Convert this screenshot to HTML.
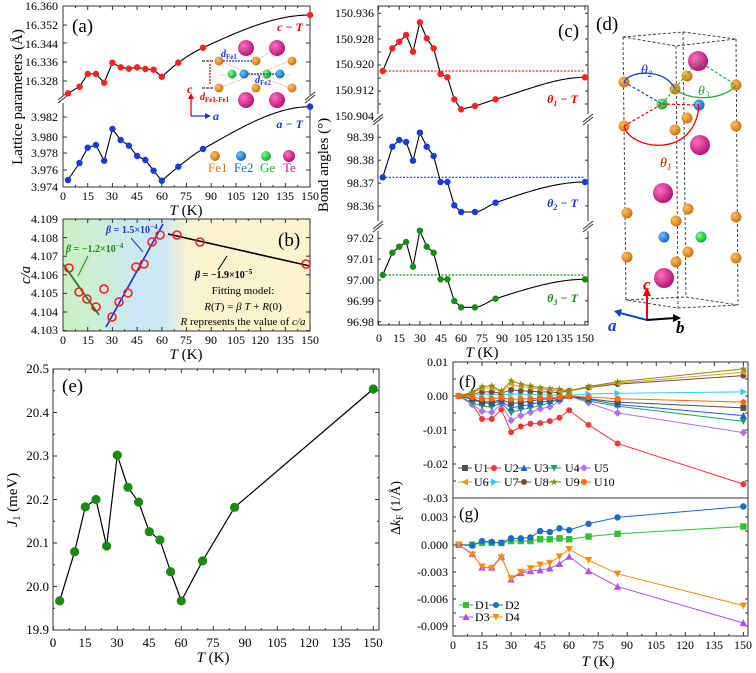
<!DOCTYPE html>
<html><head><meta charset="utf-8"><style>
html,body{margin:0;padding:0;background:#fff}
svg{display:block;font-family:"Liberation Serif",serif}
</style></head><body>
<svg id="s" width="756" height="673" viewBox="0 0 756 673" xmlns="http://www.w3.org/2000/svg">
<defs>
<linearGradient id="bg" x1="0" x2="1" y1="0" y2="0">
<stop offset="0" stop-color="#c9efc2"/><stop offset="0.15" stop-color="#cdeed6"/>
<stop offset="0.3" stop-color="#cbe9f6"/><stop offset="0.42" stop-color="#cfe8f3"/>
<stop offset="0.5" stop-color="#f9f3cf"/><stop offset="1" stop-color="#fbf4cc"/>
</linearGradient>
<radialGradient id="gO" cx="0.35" cy="0.35" r="0.7"><stop offset="0" stop-color="#ffc060"/><stop offset="1" stop-color="#c87010"/></radialGradient>
<radialGradient id="gB" cx="0.35" cy="0.35" r="0.7"><stop offset="0" stop-color="#70c0ff"/><stop offset="1" stop-color="#1060c0"/></radialGradient>
<radialGradient id="gG" cx="0.35" cy="0.35" r="0.7"><stop offset="0" stop-color="#80ff90"/><stop offset="1" stop-color="#10a030"/></radialGradient>
<radialGradient id="gP" cx="0.35" cy="0.35" r="0.7"><stop offset="0" stop-color="#ff70c0"/><stop offset="1" stop-color="#b01070"/></radialGradient>
</defs>
<rect x="63" y="219" width="247" height="112" fill="url(#bg)"/>
<g id="dyn"></g>

<g font-size="12" text-anchor="end">
<text x="58" y="10">16.360</text><text x="58" y="29">16.352</text><text x="58" y="48">16.344</text><text x="58" y="66">16.336</text><text x="58" y="85">16.328</text>
<text x="58" y="121">3.982</text><text x="58" y="141">3.980</text><text x="58" y="157">3.978</text><text x="58" y="174">3.976</text><text x="58" y="191">3.974</text>
</g>
<g font-size="12" text-anchor="middle">
<text x="63" y="200">0</text><text x="88" y="200">15</text><text x="112" y="200">30</text><text x="137" y="200">45</text><text x="162" y="200">60</text><text x="186" y="200">75</text><text x="211" y="200">90</text><text x="236" y="200">105</text><text x="260" y="200">120</text><text x="285" y="200">135</text><text x="310" y="200">150</text>
</g>
<text x="186" y="215" font-size="15" text-anchor="middle"><tspan font-style="italic">T</tspan> (K)</text>
<text transform="translate(22,97) rotate(-90)" font-size="15" text-anchor="middle">Lattice parameters (Å)</text>
<text x="72" y="32" font-size="19">(a)</text>
<text x="303" y="31" font-size="12" fill="#e00" font-style="italic" font-weight="bold" text-anchor="end">c − T</text>
<text x="303" y="128" font-size="12" fill="#1a3ad0" font-style="italic" font-weight="bold" text-anchor="end">a − T</text>
<g font-size="13">
<text x="208" y="172" fill="#e07a10">Fe1</text><text x="234" y="172" fill="#1a70d0">Fe2</text><text x="260" y="172" fill="#20b040">Ge</text><text x="283" y="172" fill="#d02090">Te</text>
</g>
<circle cx="215" cy="156" r="5" fill="url(#gO)"/><circle cx="241" cy="156" r="5" fill="url(#gB)"/><circle cx="266" cy="156" r="5" fill="url(#gG)"/><circle cx="289" cy="156" r="6" fill="url(#gP)"/>
<g stroke="#f0c090" stroke-width="0.7" opacity="0.9">
<line x1="219" y1="61" x2="290" y2="88"/><line x1="219" y1="88" x2="290" y2="61"/><line x1="219" y1="75" x2="290" y2="75"/>
<line x1="244" y1="48" x2="256" y2="61"/><line x1="276" y1="48" x2="256" y2="61"/>
</g>
<circle cx="246" cy="48" r="8" fill="url(#gP)"/><circle cx="277" cy="48" r="8" fill="url(#gP)"/>
<circle cx="246" cy="100" r="8" fill="url(#gP)"/><circle cx="277" cy="100" r="8" fill="url(#gP)"/>
<circle cx="219" cy="61" r="4.5" fill="url(#gO)"/><circle cx="256" cy="61" r="4.5" fill="url(#gO)"/><circle cx="292" cy="61" r="4.5" fill="url(#gO)"/>
<circle cx="219" cy="88" r="4.5" fill="url(#gO)"/><circle cx="256" cy="88" r="4.5" fill="url(#gO)"/><circle cx="292" cy="88" r="4.5" fill="url(#gO)"/>
<circle cx="232" cy="74" r="4.5" fill="url(#gG)"/><circle cx="244" cy="74" r="4.5" fill="url(#gB)"/><circle cx="267" cy="74" r="4.5" fill="url(#gG)"/><circle cx="280" cy="74" r="4.5" fill="url(#gB)"/>
<line x1="223" y1="61" x2="252" y2="61" stroke="#1a3ad0" stroke-dasharray="2,1" stroke-width="1.2"/>
<line x1="248" y1="74" x2="276" y2="74" stroke="#1a3ad0" stroke-dasharray="2,1" stroke-width="1.2"/>
<line x1="210" y1="64" x2="210" y2="85" stroke="#e00" stroke-dasharray="2,1" stroke-width="1.2"/>
<line x1="202" y1="61" x2="214" y2="61" stroke="#000" stroke-dasharray="3,1"/><line x1="202" y1="88" x2="214" y2="88" stroke="#000" stroke-dasharray="3,1"/>
<text x="221" y="57" font-size="10" fill="#1a3ad0" font-weight="bold" font-style="italic">d<tspan font-size="7" font-style="normal" dy="2">Fe1</tspan></text>
<text x="255" y="83" font-size="10" fill="#1a3ad0" font-weight="bold" font-style="italic">d<tspan font-size="7" font-style="normal" dy="2">Fe2</tspan></text>
<text x="200" y="100" font-size="10" fill="#e00" font-weight="bold" font-style="italic">d<tspan font-size="7" font-style="normal" dy="2">Fe1-Fe1</tspan></text>
<line x1="191" y1="116" x2="191" y2="96" stroke="#e00" stroke-width="1.3"/><path d="M188,99 L191,93 L194,99Z" fill="#e00"/>
<line x1="191" y1="116" x2="208" y2="116" stroke="#1a3ad0" stroke-width="1.3"/><path d="M205,113 L211,116 L205,119Z" fill="#1a3ad0"/>
<text x="187" y="93" font-size="12" fill="#e00" font-weight="bold" font-style="italic">c</text>
<text x="213" y="120" font-size="12" fill="#1a3ad0" font-weight="bold" font-style="italic">a</text>

<g font-size="12" text-anchor="end">
<text x="58" y="223">4.109</text><text x="58" y="242">4.108</text><text x="58" y="260">4.107</text><text x="58" y="279">4.106</text><text x="58" y="297">4.105</text><text x="58" y="316">4.104</text><text x="58" y="334">4.103</text>
</g>
<g font-size="12" text-anchor="middle">
<text x="63" y="344">0</text><text x="88" y="344">15</text><text x="112" y="344">30</text><text x="137" y="344">45</text><text x="162" y="344">60</text><text x="186" y="344">75</text><text x="211" y="344">90</text><text x="236" y="344">105</text><text x="260" y="344">120</text><text x="285" y="344">135</text><text x="310" y="344">150</text>
</g>
<text x="186" y="359" font-size="15" text-anchor="middle"><tspan font-style="italic">T</tspan> (K)</text>
<text transform="translate(30,275) rotate(-90)" font-size="15" text-anchor="middle" font-style="italic">c/a</text>
<text x="278" y="246" font-size="19">(b)</text>
<text x="66" y="252" font-size="10" fill="#1a8a1a" font-weight="bold"><tspan font-style="italic">β</tspan> = −1.2×10<tspan dy="-4" font-size="7">−4</tspan></text>
<text x="106" y="233" font-size="10" fill="#1a3ad0" font-weight="bold"><tspan font-style="italic">β</tspan> = 1.5×10<tspan dy="-4" font-size="7">−4</tspan></text>
<text x="195" y="278" font-size="10" fill="#000" font-weight="bold"><tspan font-style="italic">β</tspan> = −1.9×10<tspan dy="-4" font-size="7">−5</tspan></text>
<g font-size="11" text-anchor="middle">
<text x="243" y="294">Fitting model:</text>
<text x="243" y="310"><tspan font-style="italic">R</tspan>(<tspan font-style="italic">T</tspan>) = <tspan font-style="italic">β T</tspan> + <tspan font-style="italic">R</tspan>(0)</text>
<text x="243" y="325"><tspan font-style="italic">R</tspan> represents the value of <tspan font-style="italic">c/a</tspan></text>
</g>

<g font-size="12" text-anchor="end">
<text x="374" y="17">150.936</text><text x="374" y="43">150.928</text><text x="374" y="68">150.920</text><text x="374" y="94">150.912</text><text x="374" y="120">150.904</text>
<text x="374" y="141">98.39</text><text x="374" y="164">98.38</text><text x="374" y="187">98.37</text><text x="374" y="210">98.36</text>
<text x="374" y="242">97.02</text><text x="374" y="263">97.01</text><text x="374" y="284">97.00</text><text x="374" y="305">96.99</text><text x="374" y="326">96.98</text>
</g>
<g font-size="12" text-anchor="middle">
<text x="379" y="342">0</text><text x="399" y="342">15</text><text x="420" y="342">30</text><text x="441" y="342">45</text><text x="461" y="342">60</text><text x="482" y="342">75</text><text x="502" y="342">90</text><text x="523" y="342">105</text><text x="544" y="342">120</text><text x="564" y="342">135</text><text x="585" y="342">150</text>
</g>
<text x="482" y="357" font-size="15" text-anchor="middle"><tspan font-style="italic">T</tspan> (K)</text>
<text transform="translate(328,165) rotate(-90)" font-size="15" text-anchor="middle">Bond angles (°)</text>
<text x="558" y="37" font-size="19">(c)</text>
<text x="578" y="103" font-size="12" fill="#e00" font-weight="bold" font-style="italic" text-anchor="end">θ<tspan font-size="8" dy="3">1</tspan><tspan dy="-3"> − T</tspan></text>
<text x="578" y="207" font-size="12" fill="#1a3ad0" font-weight="bold" font-style="italic" text-anchor="end">θ<tspan font-size="8" dy="3">2</tspan><tspan dy="-3"> − T</tspan></text>
<text x="578" y="302" font-size="12" fill="#1a8a1a" font-weight="bold" font-style="italic" text-anchor="end">θ<tspan font-size="8" dy="3">3</tspan><tspan dy="-3"> − T</tspan></text>

<text x="596" y="30" font-size="19">(d)</text>
<g stroke="#333" stroke-dasharray="3,2" fill="none" stroke-width="0.9">
<path d="M623,37 L683,32 L736,39 L676,46 Z"/>
<path d="M626,300 L686,297 L738,305 L678,308 Z"/>
<line x1="623" y1="37" x2="626" y2="300"/><line x1="676" y1="46" x2="678" y2="308"/><line x1="683" y1="32" x2="686" y2="297"/><line x1="736" y1="39" x2="738" y2="305"/>
</g>
<g id="datoms"></g>
<g stroke-width="1.2" fill="none" stroke-dasharray="3,2">
<line x1="624" y1="82" x2="662" y2="104" stroke="#1a3ad0"/>
<line x1="662" y1="104" x2="698" y2="61" stroke="#20b040"/>
<line x1="698" y1="61" x2="736" y2="85" stroke="#20b040"/>
<line x1="624" y1="126" x2="662" y2="104" stroke="#e00"/>
<line x1="662" y1="104" x2="699" y2="105" stroke="#e00"/>
</g>
<g fill="none" stroke-width="1.3">
<path d="M624,82 C630,70 665,68 675,89" stroke="#1a3ad0"/>
<path d="M675,89 C690,102 725,100 736,85" stroke="#20b040"/>
<path d="M624,126 C630,150 695,160 699,105" stroke="#e00"/>
</g>
<text x="641" y="74" font-size="14" fill="#1a3ad0" font-style="italic">θ<tspan font-size="9" dy="3">2</tspan></text>
<text x="698" y="95" font-size="14" fill="#20b040" font-style="italic">θ<tspan font-size="9" dy="3">3</tspan></text>
<text x="660" y="167" font-size="14" fill="#e00" font-style="italic">θ<tspan font-size="9" dy="3">1</tspan></text>
<line x1="647" y1="320" x2="647" y2="294" stroke="#e00" stroke-width="2"/><path d="M643,296 L647,287 L651,296Z" fill="#e00"/>
<line x1="647" y1="320" x2="620" y2="313" stroke="#1a3ad0" stroke-width="2"/><path d="M622,309 L614,311 L620,317Z" fill="#1a3ad0"/>
<line x1="647" y1="320" x2="675" y2="318" stroke="#000" stroke-width="2"/><path d="M673,314 L681,318 L673,322Z" fill="#000"/>
<text x="643" y="290" font-size="17" fill="#e00" font-style="italic" font-weight="bold">c</text>
<text x="608" y="331" font-size="17" fill="#1a3ad0" font-style="italic" font-weight="bold">a</text>
<text x="676" y="333" font-size="17" fill="#000" font-style="italic" font-weight="bold">b</text>

<g font-size="13" text-anchor="end">
<text x="49" y="373">20.5</text><text x="49" y="417">20.4</text><text x="49" y="460">20.3</text><text x="49" y="504">20.2</text><text x="49" y="547">20.1</text><text x="49" y="591">20.0</text><text x="49" y="634">19.9</text>
</g>
<g font-size="13" text-anchor="middle">
<text x="53" y="647">0</text><text x="85" y="647">15</text><text x="117" y="647">30</text><text x="149" y="647">45</text><text x="181" y="647">60</text><text x="213" y="647">75</text><text x="245" y="647">90</text><text x="277" y="647">105</text><text x="309" y="647">120</text><text x="341" y="647">135</text><text x="373" y="647">150</text>
</g>
<text x="213" y="662" font-size="15" text-anchor="middle"><tspan font-style="italic">T</tspan> (K)</text>
<text transform="translate(17,500) rotate(-90)" font-size="15" text-anchor="middle"><tspan font-style="italic">J</tspan><tspan font-size="10" dy="3">1</tspan><tspan dy="-3"> (meV)</tspan></text>
<text x="62" y="392" font-size="19">(e)</text>

<g font-size="12" text-anchor="end">
<text x="448" y="366">0.01</text><text x="448" y="400">0.00</text><text x="448" y="434">-0.01</text><text x="448" y="468">-0.02</text><text x="448" y="502">-0.03</text>
<text x="448" y="521">0.003</text><text x="448" y="549">0.000</text><text x="448" y="576">-0.003</text><text x="448" y="603">-0.006</text><text x="448" y="630">-0.009</text>
</g>
<g font-size="12" text-anchor="middle">
<text x="453" y="649">0</text><text x="482" y="649">15</text><text x="511" y="649">30</text><text x="540" y="649">45</text><text x="569" y="649">60</text><text x="598" y="649">75</text><text x="627" y="649">90</text><text x="656" y="649">105</text><text x="685" y="649">120</text><text x="714" y="649">135</text><text x="743" y="649">150</text>
</g>
<text x="598" y="666" font-size="15" text-anchor="middle"><tspan font-style="italic">T</tspan> (K)</text>
<text transform="translate(400,508) rotate(-90)" font-size="14" text-anchor="middle">Δ<tspan font-style="italic">k</tspan><tspan font-size="9" dy="3">F</tspan><tspan dy="-3">  (1/Å)</tspan></text>
<text x="459" y="387" font-size="17">(f)</text>
<text x="459" y="519" font-size="17">(g)</text>
<g font-size="12">
<text x="474" y="472">U1</text><text x="504" y="472">U2</text><text x="534" y="472">U3</text><text x="565" y="472">U4</text><text x="594" y="472">U5</text>
<text x="474" y="486">U6</text><text x="504" y="486">U7</text><text x="534" y="486">U8</text><text x="565" y="486">U9</text><text x="594" y="486">U10</text>
<text x="475" y="609">D1</text><text x="505" y="609">D2</text>
<text x="475" y="621">D3</text><text x="505" y="621">D4</text>
</g>
</svg>
<script>
(function(){
var NS="http://www.w3.org/2000/svg",dyn=document.getElementById("dyn"),da=document.getElementById("datoms");
function el(t,a,p){var e=document.createElementNS(NS,t);for(var k in a)e.setAttribute(k,a[k]);(p||dyn).appendChild(e);return e;}
var T=[3,10,15,20,25,30,35,40,45,50,55,60,70,85,150];
// monotone cubic (Fritsch-Carlson), zero slope at the far end
function mono(xs,ys,x){var n=xs.length,d=[],m=[];
 for(var i=0;i<n-1;i++)d.push((ys[i+1]-ys[i])/(xs[i+1]-xs[i]));
 m[0]=d[0];for(var i=1;i<n-1;i++){m[i]=(d[i-1]*d[i]<=0)?0:(d[i-1]+d[i])/2;}
 m[n-1]=0;
 for(var i=0;i<n-1;i++){if(d[i]==0){m[i]=0;m[i+1]=0;continue;}var a=m[i]/d[i],b=m[i+1]/d[i],s=a*a+b*b;if(s>9){var t=3/Math.sqrt(s);m[i]=t*a*d[i];m[i+1]=t*b*d[i];}}
 var k=0;while(k<n-2&&x>xs[k+1])k++;
 var h=xs[k+1]-xs[k],t=(x-xs[k])/h,t2=t*t,t3=t2*t;
 return (2*t3-3*t2+1)*ys[k]+(t3-2*t2+t)*h*m[k]+(-2*t3+3*t2)*ys[k+1]+(t3-t2)*h*m[k+1];}
function smoothLine(xf,yv,col,w){
 var pts=[];for(var i=0;i<12;i++)pts.push(xf(T[i])+","+yv[i]);
 var xs=[60,70,85,150],ys=[yv[11],yv[12],yv[13],yv[14]];
 for(var t=60;t<=150;t+=1.5)pts.push(xf(t)+","+mono(xs,ys,t));
 pts.push(xf(150)+","+yv[14]);
 el("polyline",{points:pts.join(" "),fill:"none",stroke:col||"#000","stroke-width":w||1.1});}
function dots(xf,yv,col,r){for(var i=0;i<T.length;i++)el("circle",{cx:xf(T[i]),cy:yv[i],r:r,fill:col});}
function frame(x0,y0,x1,y1){el("rect",{x:x0,y:y0,width:x1-x0,height:y1-y0,fill:"none",stroke:"#333","stroke-width":1});}
function xticks(xf,y0,y1,step,minor,max){for(var t=0;t<=max;t+=minor){var L=(t%step==0)?4:2;var x=xf(t);el("line",{x1:x,x2:x,y1:y1,y2:y1-L,stroke:"#333"});el("line",{x1:x,x2:x,y1:y0,y2:y0+L,stroke:"#333"});}}
function yticks(x0,x1,ys,L){ys.forEach(function(y){el("line",{x1:x0,x2:x0+L,y1:y,y2:y,stroke:"#333"});el("line",{x1:x1,x2:x1-L,y1:y,y2:y,stroke:"#333"});});}
function brk(x,y){el("line",{x1:x-5,x2:x+5,y1:y+4,y2:y-4,stroke:"#333","stroke-width":1});el("line",{x1:x-5,x2:x+5,y1:y+7,y2:y-1,stroke:"#333","stroke-width":1});}
var xa=function(t){return 63+1.647*t;};
frame(63,6,310,187);
el("rect",{x:56,y:95,width:10,height:8,fill:"#fff"});el("rect",{x:306,y:95,width:10,height:8,fill:"#fff"});
brk(63,96);brk(310,96);
xticks(xa,6,187,15,7.5,150);
yticks(63,310,[6,25,43,62,81,117,137,153,170],4);
var ca=[93.3,86.7,74,74,82.7,62.7,67.3,68.7,67.3,69,69.7,76.7,62.7,47.7,15];
var aa=[180,163,147.7,145,160.7,129,140,145.7,156,160,170.7,180.7,166.7,149,106.7];
smoothLine(xa,ca);smoothLine(xa,aa);dots(xa,ca,"#f22",3.2);dots(xa,aa,"#1a3ae0",3.2);
frame(63,219,310,331);
xticks(xa,219,331,15,7.5,150);
yticks(63,310,[219,237.6,256.2,274.8,293.4,312,330.6],4);
el("line",{x1:63,y1:264,x2:99,y2:315,stroke:"#1a7a1a","stroke-width":1.6});
el("line",{x1:106,y1:327,x2:163,y2:224,stroke:"#1a2ae0","stroke-width":1.6});
el("line",{x1:168,y1:234,x2:310,y2:266,stroke:"#000","stroke-width":1.6});
el("line",{x1:88,y1:256,x2:78,y2:276,stroke:"#1a8a1a","stroke-width":1});
el("line",{x1:131,y1:238,x2:143,y2:252,stroke:"#1a3ad0","stroke-width":1});
el("line",{x1:218,y1:270,x2:227,y2:256,stroke:"#000","stroke-width":1});
var bx=[69,79,87,96,104,112,119,128,136,144,152,160,177,200,306],by=[268,292,299,307,289,317,302,293,267,264,242,235,235,242,264];
for(var i=0;i<bx.length;i++)el("circle",{cx:bx[i],cy:by[i],r:4,fill:"none",stroke:"#f02020","stroke-width":1.6});
var xc=function(t){return 378.6+1.376*t;};
frame(378,6,588,325);
[118,225].forEach(function(y){el("rect",{x:372,y:y-4,width:12,height:10,fill:"#fff"});el("rect",{x:582,y:y-4,width:12,height:10,fill:"#fff"});brk(378,y);brk(588,y);});
xticks(xc,6,325,15,7.5,150);
yticks(378,588,[13.3,26.2,39,52,65,78,91,104,137.3,160.2,183.1,206,238.3,259.1,280,300.8,321.7],3);
var t1=[71,48.3,41.7,35,51.7,22.3,38.3,48.3,74,77.3,99.3,109.3,106,99.3,77.3];
var t2=[177.3,146.7,140,142,160.7,132.7,146.7,156,182,182,205.3,212,212,202.7,182];
var t3=[275,252.7,246.7,242,266.7,230.7,246.7,252.7,279.3,279.3,301,307.3,307.3,298.7,279.3];
el("line",{x1:382,x2:585,y1:71,y2:71,stroke:"#f22","stroke-dasharray":"2,1.5","stroke-width":1.2});
el("line",{x1:382,x2:585,y1:177.3,y2:177.3,stroke:"#1a3ae0","stroke-dasharray":"2,1.5","stroke-width":1.2});
el("line",{x1:382,x2:585,y1:275,y2:275,stroke:"#1a8a1a","stroke-dasharray":"2,1.5","stroke-width":1.2});
smoothLine(xc,t1);smoothLine(xc,t2);smoothLine(xc,t3);
dots(xc,t1,"#f22",3.2);dots(xc,t2,"#1a3ae0",3.2);dots(xc,t3,"#1a8a1a",3.2);
function atom(x,y,r,g){el("circle",{cx:x,cy:y,r:r,fill:"url(#"+g+")"},da);}
[[624,82],[675,89],[687,76],[736,85],[624,126],[687,118],[675,130],[736,126],[627,213],[688,209],[676,221],[736,217],[627,257],[688,252],[676,262],[736,258]].forEach(function(p){atom(p[0],p[1],5.5,"gO");});
atom(662,104,5.5,"gG");atom(701,237,5.5,"gG");atom(699,105,5.5,"gB");atom(664,237,5.5,"gB");
atom(698,61,10,"gP");atom(700,145,10,"gP");atom(663,193,10,"gP");atom(664,278,10,"gP");
var xe=function(t){return 53.3+2.133*t;};
frame(53,369,379,630);
xticks(xe,369,630,15,7.5,150);
yticks(53,379,[369,412.5,456,499.5,543,586.5,630],4);
for(var k=0;k<6;k++){var y=390.75+43.5*k;el("line",{x1:53,x2:55,y1:y,y2:y,stroke:"#333"});el("line",{x1:379,x2:377,y1:y,y2:y,stroke:"#333"});}
var J=[19.967,20.08,20.183,20.2,20.093,20.302,20.228,20.194,20.126,20.107,20.034,19.967,20.059,20.182,20.454];
var ye=J.map(function(v){return 630-(v-19.9)*435;});
var pe=[];for(var i=0;i<T.length;i++)pe.push(xe(T[i])+","+ye[i]);
el("polyline",{points:pe.join(" "),fill:"none",stroke:"#000","stroke-width":1.2});
dots(xe,ye,"#1a8a10",4.6);
var xf=function(t){return 453+1.936*t;};
frame(453,362,748,498);frame(453,498,748,636);
xticks(xf,362,636,15,7.5,150);
yticks(453,748,[362,379,396,413,430,447,464,481,498],3);
yticks(453,748,[517,531,545,558,572,586,599,613,626],3);
function mk(s,x,y,c,r){r=r||3;var p;
 if(s=="sq")return el("rect",{x:x-r,y:y-r,width:2*r,height:2*r,fill:c});
 if(s=="ci")return el("circle",{cx:x,cy:y,r:r,fill:c});
 if(s=="up")p=[[x,y-r-0.5],[x+r+0.5,y+r],[x-r-0.5,y+r]];
 if(s=="dn")p=[[x,y+r+0.5],[x+r+0.5,y-r],[x-r-0.5,y-r]];
 if(s=="di")p=[[x,y-r-0.8],[x+r+0.8,y],[x,y+r+0.8],[x-r-0.8,y]];
 if(s=="lt")p=[[x-r-0.5,y],[x+r,y-r-0.5],[x+r,y+r+0.5]];
 if(s=="rt")p=[[x+r+0.5,y],[x-r,y-r-0.5],[x-r,y+r+0.5]];
 if(s=="st"){p=[];for(var i=0;i<10;i++){var a=-Math.PI/2+i*Math.PI/5,rr=i%2?r*0.5:r*1.3;p.push([x+rr*Math.cos(a),y+rr*Math.sin(a)]);}}
 el("polygon",{points:p.map(function(q){return q.join(",");}).join(" "),fill:c});}
var fy=function(v){return 396-v*3390;}, gy=function(v){return 544.7-v*9100;};
var F=[
["U2","ci","#f03838",[0,-0.0025,-0.0068,-0.0068,-0.004,-0.0107,-0.009,-0.0082,-0.008,-0.0074,-0.0064,-0.0042,-0.0085,-0.014,-0.026]],
["U5","di","#b070f0",[0,-0.0025,-0.0045,-0.0048,-0.0025,-0.0072,-0.0058,-0.0048,-0.0038,-0.0032,-0.0015,0,-0.002,-0.005,-0.0108]],
["U4","dn","#20a060",[0,-0.002,-0.003,-0.0033,-0.002,-0.005,-0.004,-0.0035,-0.0028,-0.002,-0.001,0,-0.0015,-0.003,-0.0075]],
["U3","up","#1a60d8",[0,-0.001,-0.002,-0.0022,-0.0015,-0.0035,-0.003,-0.0025,-0.0018,-0.0015,-0.0008,0,-0.001,-0.0025,-0.0058]],
["U1","sq","#505050",[0,-0.0008,-0.0017,-0.0018,-0.001,-0.0022,-0.002,-0.0015,-0.001,-0.0008,-0.0005,0,-0.0008,-0.0018,-0.0035]],
["U7","rt","#30d0e8",[0,0.0002,0.0005,0.0005,0.0003,0.0006,0.0005,0.0005,0.0004,0.0003,0.0002,0.0002,0.0006,0.0008,0.0012]],
["U8","ci","#7a4a40",[0,0.0005,0.0012,0.0012,0.0008,0.0018,0.0015,0.0014,0.0012,0.0012,0.001,0.0015,0.0025,0.0035,0.006]],
["U6","lt","#d8a020",[0,0.001,0.0022,0.0024,0.0012,0.0035,0.0028,0.0025,0.002,0.0018,0.0015,0.0015,0.0027,0.0038,0.007]],
["U9","st","#8a8a10",[0,0.0012,0.0028,0.003,0.0015,0.0045,0.0035,0.003,0.0025,0.0022,0.002,0.0016,0.0028,0.0042,0.008]],
["U10","ci","#ff6a10",[0,-0.0003,-0.0008,-0.0008,-0.0005,-0.001,-0.0009,-0.0008,-0.0006,-0.0005,-0.0003,0,-0.0003,-0.0008,-0.0018]]];
F.forEach(function(s){var pts=[];for(var i=0;i<T.length;i++)pts.push(xf(T[i])+","+fy(s[3][i]));
 el("polyline",{points:pts.join(" "),fill:"none",stroke:s[2],"stroke-width":1});
 for(var i=0;i<T.length;i++)mk(s[1],xf(T[i]),fy(s[3][i]),s[2],3);});
var G=[
["D1","sq","#30c030",[0,0,0.0002,0.0002,0.0002,0.0004,0.0004,0.0004,0.0006,0.0006,0.0007,0.0006,0.0009,0.0012,0.002]],
["D2","ci","#1a6ad0",[0,-0.0001,0.0004,0.0003,0.0002,0.0007,0.0007,0.0008,0.0015,0.0014,0.0018,0.0016,0.0023,0.003,0.0042]],
["D3","up","#b050f0",[0,-0.001,-0.0025,-0.0025,-0.0013,-0.0038,-0.0031,-0.0029,-0.0028,-0.0026,-0.0021,-0.0013,-0.0029,-0.0046,-0.0086]],
["D4","dn","#ff8c10",[0,-0.0011,-0.0024,-0.0026,-0.0014,-0.0037,-0.003,-0.0026,-0.0022,-0.002,-0.0013,-0.0005,-0.0017,-0.0032,-0.0067]]];
G.forEach(function(s){var pts=[];for(var i=0;i<T.length;i++)pts.push(xf(T[i])+","+gy(s[3][i]));
 el("polyline",{points:pts.join(" "),fill:"none",stroke:s[2],"stroke-width":1});
 for(var i=0;i<T.length;i++)mk(s[1],xf(T[i]),gy(s[3][i]),s[2],3.2);});
var L1=[["U1","sq","#505050",458,468],["U2","ci","#f03838",487,468],["U3","up","#1a60d8",517,468],["U4","dn","#20a060",547,468],["U5","di","#b070f0",577,468],
["U6","lt","#d8a020",458,482],["U7","rt","#30d0e8",487,482],["U8","ci","#7a4a40",517,482],["U9","st","#8a8a10",547,482],["U10","ci","#ff6a10",577,482],
["D1","sq","#30c030",459,605],["D2","ci","#1a6ad0",489,605],["D3","up","#b050f0",459,617],["D4","dn","#ff8c10",489,617]];
L1.forEach(function(l){el("line",{x1:l[3],x2:l[3]+14,y1:l[4],y2:l[4],stroke:l[2]});mk(l[1],l[3]+7,l[4],l[2],3);});
})();
</script>
</body></html>
